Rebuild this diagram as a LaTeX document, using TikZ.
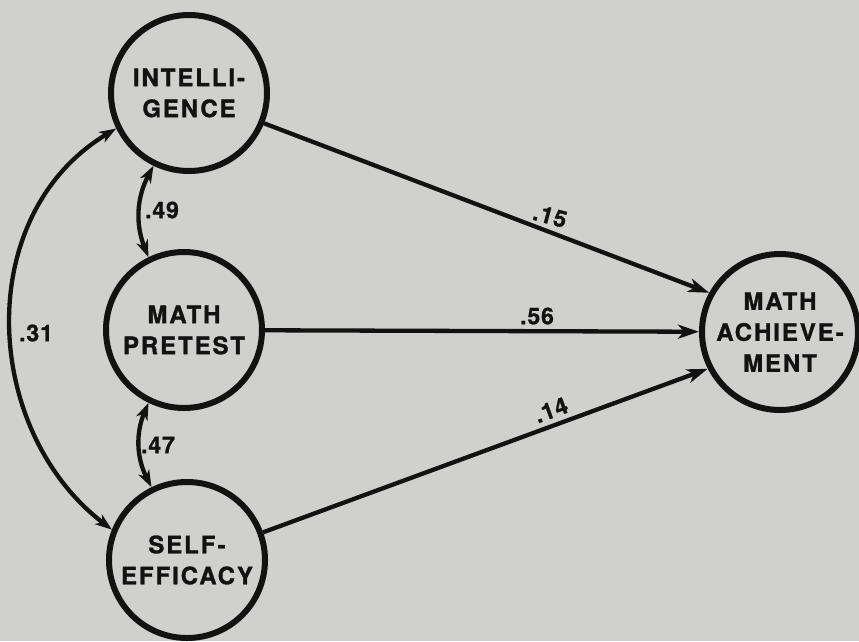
\documentclass[tikz,border=0pt]{standalone}
\usepackage{fontspec}
\setmainfont{TeX Gyre Heros}
\newfontfamily\circfont[LetterSpace=8,FakeBold=1.2]{texgyreheros-bold.otf}
\newfontfamily\numfont[LetterSpace=4,FakeBold=1]{texgyreheros-bold.otf}
\usetikzlibrary{arrows.meta}
\definecolor{paper}{RGB}{208,208,206}
\definecolor{ink}{RGB}{18,18,18}
\begin{document}
\begin{tikzpicture}[x=1pt,y=-1pt,
 circ/.style={circle,draw=ink,line width=6pt,minimum size=156pt,inner sep=0pt,align=center,
   font=\circfont\fontsize{24}{31}\selectfont,text=ink},
 arr/.style={draw=ink,line width=4.3pt,-{Stealth[length=21pt,width=14pt,inset=6pt]}},
 darr/.style={draw=ink,line width=4.3pt,{Stealth[length=17pt,width=12pt,inset=5pt]}-{Stealth[length=17pt,width=12pt,inset=5pt]}},
 lbl/.style={font=\numfont\fontsize{23}{26}\selectfont,text=ink,inner sep=0pt}]
\fill[paper] (0,0) rectangle (859,641);
\useasboundingbox (0,0) rectangle (859,641);

\node[circ] (int) at (189,93) {INTELLI-\\GENCE};
\node[circ] (pre) at (184,330) {MATH\\PRETEST};
\node[circ] (self) at (187,560) {SELF-\\EFFICACY};
\node[circ] (ach) at (780,332) {MATH\\ACHIEVE-\\MENT};

\draw[arr] (int.-22) -- (ach.151);
\draw[arr] (pre) -- (ach);
\draw[arr] (self.20) -- (ach.207);

\draw[darr] (int.-116) to[bend right=25] (pre.116);
\draw[darr] (pre.-116) to[bend right=25] (self.116);
\draw[darr] (int.-154) .. controls (-28,215) and (-18,430) .. (self.158);

\node[lbl] (l15) at (550,216) [rotate=-15] {.15};
\node[lbl] (l56) at (537,316) {.56};
\node[lbl] (l14) at (551,410) [rotate=20] {.14};
\node[lbl] (l49) at (162,210) {.49};
\node[lbl] (l47) at (158,445) {.47};
\node[lbl] (l31) at (36,333) {.31};
\end{tikzpicture}
\end{document}
